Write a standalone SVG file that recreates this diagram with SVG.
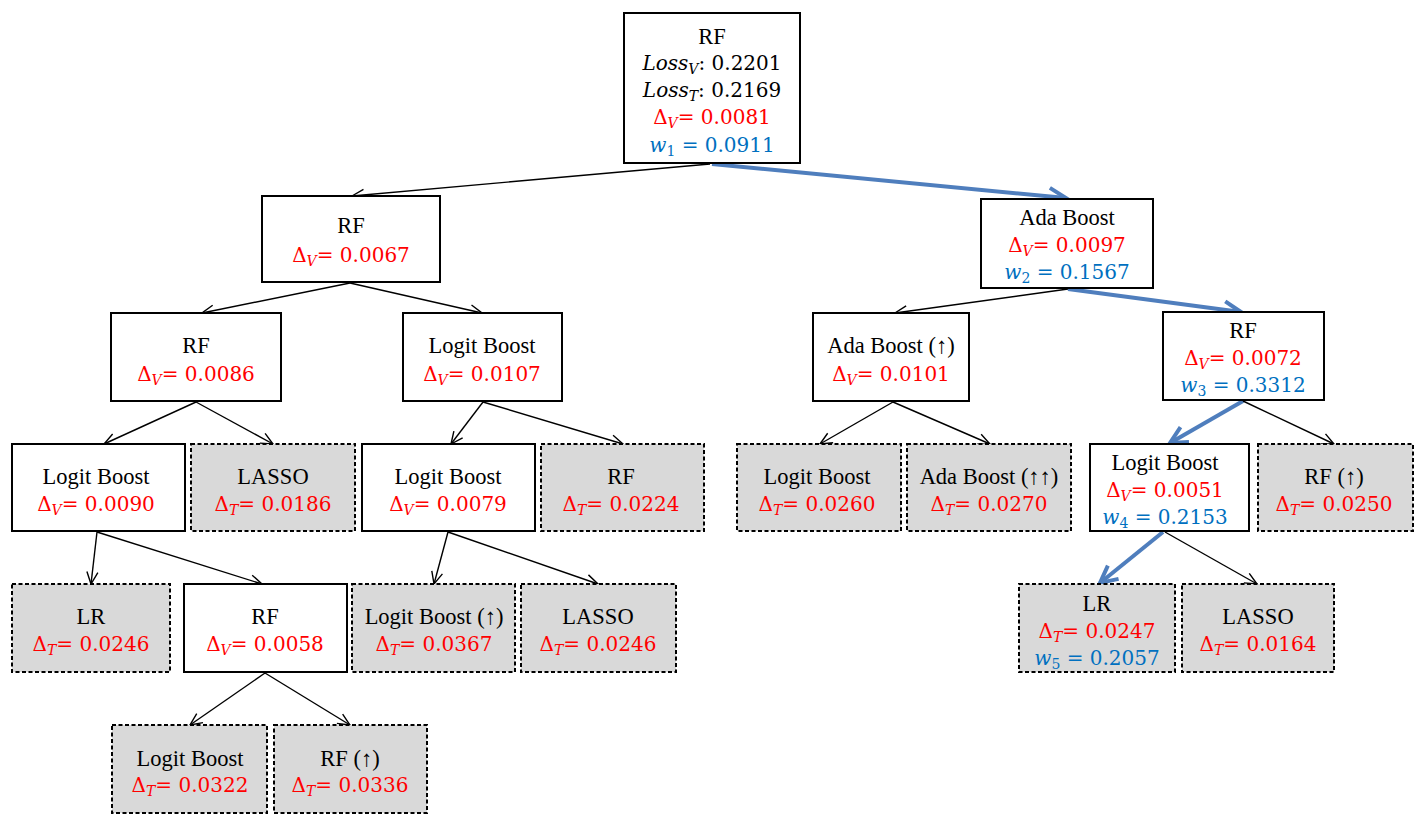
<svg xmlns="http://www.w3.org/2000/svg" width="1425" height="822" viewBox="0 0 1425 822">
<defs>
<style>
.n{fill:#fff;stroke:#000;stroke-width:2}
.g{fill:#D9D9D9;stroke:#000;stroke-width:2;stroke-dasharray:4,2.5}
.t{font-family:"Liberation Serif",serif;font-size:22.5px;fill:#000;text-anchor:middle}
.m{font-family:"DejaVu Serif",serif;font-size:20px;text-anchor:middle}
.r{fill:#FF0000}
.b{fill:#0070C0}
.k{fill:#000}
.i{font-style:italic}
.s{font-size:14px;font-style:italic}
.d{font-size:14px}
.c{stroke:#000;stroke-width:1.4;fill:none;marker-end:url(#a)}
.h{stroke:#4F7EBD;stroke-width:4;fill:none;marker-end:url(#ab)}
</style>
<marker id="a" markerUnits="userSpaceOnUse" markerWidth="16" markerHeight="16" refX="13" refY="6" orient="auto" viewBox="0 0 16 12">
<path d="M1,0.5 L13,6 L1,11.5" fill="none" stroke="#000" stroke-width="1.4"/>
</marker>
<marker id="ab" markerUnits="userSpaceOnUse" markerWidth="24" markerHeight="24" refX="19" refY="10" orient="auto" viewBox="0 0 24 20">
<path d="M2,1.5 L19,10 L2,18.5" fill="none" stroke="#4F7EBD" stroke-width="4"/>
</marker>
</defs>
<rect width="1425" height="822" fill="#fff"/>
<g id="connectors">
<line class="c" x1="710" y1="164" x2="352" y2="196"/>
<line class="h" x1="712" y1="164" x2="1066" y2="198"/>
<line class="c" x1="350" y1="283" x2="202" y2="313"/>
<line class="c" x1="350" y1="283" x2="482" y2="313"/>
<line class="c" x1="1068" y1="289" x2="895" y2="313"/>
<line class="h" x1="1068" y1="289" x2="1241" y2="312"/>
<line class="c" x1="196" y1="402" x2="104" y2="444"/>
<line class="c" x1="196" y1="402" x2="273" y2="444"/>
<line class="c" x1="483" y1="402" x2="451" y2="444"/>
<line class="c" x1="483" y1="402" x2="623" y2="444"/>
<line class="c" x1="893" y1="402" x2="820" y2="444"/>
<line class="c" x1="893" y1="402" x2="990" y2="444"/>
<line class="h" x1="1243" y1="401" x2="1170" y2="443"/>
<line class="c" x1="1243" y1="401" x2="1334" y2="444"/>
<line class="c" x1="97" y1="532" x2="91" y2="584"/>
<line class="c" x1="97" y1="532" x2="262" y2="584"/>
<line class="c" x1="448" y1="532" x2="434" y2="584"/>
<line class="c" x1="448" y1="532" x2="598" y2="584"/>
<line class="h" x1="1163" y1="532" x2="1100" y2="583"/>
<line class="c" x1="1165" y1="532" x2="1257" y2="584"/>
<line class="c" x1="265" y1="673" x2="190" y2="725"/>
<line class="c" x1="265" y1="673" x2="350" y2="725"/>
</g>
<g id="root">
<rect class="n" x="624" y="13" width="176" height="150"/>
<text class="t" x="712" y="44">RF</text>
<text class="m k" x="712" y="70"><tspan class="i">Loss</tspan><tspan class="s" dy="4">V</tspan><tspan dy="-4">: 0.2201</tspan></text>
<text class="m k" x="712" y="97"><tspan class="i">Loss</tspan><tspan class="s" dy="4">T</tspan><tspan dy="-4">: 0.2169</tspan></text>
<text class="m r" x="712" y="124">Δ<tspan class="s" dy="4">V</tspan><tspan dy="-4">= 0.0081</tspan></text>
<text class="m b" x="712" y="152"><tspan class="i">w</tspan><tspan class="d" dy="4">1</tspan><tspan dy="-4"> = 0.0911</tspan></text>
</g>
<g id="n_rf1">
<rect class="n" x="262" y="196" width="178" height="86"/>
<text class="t" x="351" y="233">RF</text>
<text class="m r" x="351" y="262">Δ<tspan class="s" dy="4">V</tspan><tspan dy="-4">= 0.0067</tspan></text>
</g>
<g id="n_ada1">
<rect class="n" x="981" y="199" width="172" height="89"/>
<text class="t" x="1067" y="225">Ada Boost</text>
<text class="m r" x="1067" y="252">Δ<tspan class="s" dy="4">V</tspan><tspan dy="-4">= 0.0097</tspan></text>
<text class="m b" x="1067" y="279"><tspan class="i">w</tspan><tspan class="d" dy="4">2</tspan><tspan dy="-4"> = 0.1567</tspan></text>
</g>
<g id="n_rf2">
<rect class="n" x="111" y="313" width="170" height="88"/>
<text class="t" x="196" y="353">RF</text>
<text class="m r" x="196" y="381">Δ<tspan class="s" dy="4">V</tspan><tspan dy="-4">= 0.0086</tspan></text>
</g>
<g id="n_lb2">
<rect class="n" x="403" y="313" width="159" height="88"/>
<text class="t" x="482" y="353">Logit Boost</text>
<text class="m r" x="482" y="381">Δ<tspan class="s" dy="4">V</tspan><tspan dy="-4">= 0.0107</tspan></text>
</g>
<g id="n_ada2">
<rect class="n" x="813" y="313" width="156" height="88"/>
<text class="t" x="891" y="353">Ada Boost (↑)</text>
<text class="m r" x="891" y="381">Δ<tspan class="s" dy="4">V</tspan><tspan dy="-4">= 0.0101</tspan></text>
</g>
<g id="n_rf3">
<rect class="n" x="1163" y="312" width="161" height="88"/>
<text class="t" x="1243" y="338">RF</text>
<text class="m r" x="1243" y="365">Δ<tspan class="s" dy="4">V</tspan><tspan dy="-4">= 0.0072</tspan></text>
<text class="m b" x="1243" y="392"><tspan class="i">w</tspan><tspan class="d" dy="4">3</tspan><tspan dy="-4"> = 0.3312</tspan></text>
</g>
<g id="n_lb3a">
<rect class="n" x="12" y="444" width="173" height="87"/>
<text class="t" x="96" y="484">Logit Boost</text>
<text class="m r" x="96" y="511">Δ<tspan class="s" dy="4">V</tspan><tspan dy="-4">= 0.0090</tspan></text>
</g>
<g id="n_lasso3">
<rect class="g" x="191" y="444" width="164" height="87"/>
<text class="t" x="273" y="484">LASSO</text>
<text class="m r" x="273" y="511">Δ<tspan class="s" dy="4">T</tspan><tspan dy="-4">= 0.0186</tspan></text>
</g>
<g id="n_lb3b">
<rect class="n" x="362" y="444" width="173" height="87"/>
<text class="t" x="448" y="484">Logit Boost</text>
<text class="m r" x="448" y="511">Δ<tspan class="s" dy="4">V</tspan><tspan dy="-4">= 0.0079</tspan></text>
</g>
<g id="n_rf3g">
<rect class="g" x="541" y="444" width="163" height="87"/>
<text class="t" x="621" y="484">RF</text>
<text class="m r" x="621" y="511">Δ<tspan class="s" dy="4">T</tspan><tspan dy="-4">= 0.0224</tspan></text>
</g>
<g id="n_lb3c">
<rect class="g" x="737" y="444" width="164" height="87"/>
<text class="t" x="817" y="484">Logit Boost</text>
<text class="m r" x="817" y="511">Δ<tspan class="s" dy="4">T</tspan><tspan dy="-4">= 0.0260</tspan></text>
</g>
<g id="n_ada3">
<rect class="g" x="907" y="444" width="164" height="87"/>
<text class="t" x="989" y="484">Ada Boost (↑↑)</text>
<text class="m r" x="989" y="511">Δ<tspan class="s" dy="4">T</tspan><tspan dy="-4">= 0.0270</tspan></text>
</g>
<g id="n_lb3d">
<rect class="n" x="1090" y="444" width="159" height="87"/>
<text class="t" x="1165" y="470">Logit Boost</text>
<text class="m r" x="1165" y="497">Δ<tspan class="s" dy="4">V</tspan><tspan dy="-4">= 0.0051</tspan></text>
<text class="m b" x="1165" y="524"><tspan class="i">w</tspan><tspan class="d" dy="4">4</tspan><tspan dy="-4"> = 0.2153</tspan></text>
</g>
<g id="n_rf3h">
<rect class="g" x="1258" y="444" width="155" height="87"/>
<text class="t" x="1334" y="484">RF (↑)</text>
<text class="m r" x="1334" y="511">Δ<tspan class="s" dy="4">T</tspan><tspan dy="-4">= 0.0250</tspan></text>
</g>
<g id="n_lr4a">
<rect class="g" x="12" y="584" width="158" height="88"/>
<text class="t" x="91" y="624">LR</text>
<text class="m r" x="91" y="651">Δ<tspan class="s" dy="4">T</tspan><tspan dy="-4">= 0.0246</tspan></text>
</g>
<g id="n_rf4">
<rect class="n" x="184" y="584" width="163" height="88"/>
<text class="t" x="265" y="624">RF</text>
<text class="m r" x="265" y="651">Δ<tspan class="s" dy="4">V</tspan><tspan dy="-4">= 0.0058</tspan></text>
</g>
<g id="n_lb4">
<rect class="g" x="352" y="584" width="163" height="88"/>
<text class="t" x="434" y="624">Logit Boost (↑)</text>
<text class="m r" x="434" y="651">Δ<tspan class="s" dy="4">T</tspan><tspan dy="-4">= 0.0367</tspan></text>
</g>
<g id="n_lasso4">
<rect class="g" x="521" y="584" width="155" height="88"/>
<text class="t" x="598" y="624">LASSO</text>
<text class="m r" x="598" y="651">Δ<tspan class="s" dy="4">T</tspan><tspan dy="-4">= 0.0246</tspan></text>
</g>
<g id="n_lr4b">
<rect class="g" x="1019" y="584" width="156" height="88"/>
<text class="t" x="1097" y="611">LR</text>
<text class="m r" x="1097" y="638">Δ<tspan class="s" dy="4">T</tspan><tspan dy="-4">= 0.0247</tspan></text>
<text class="m b" x="1097" y="665"><tspan class="i">w</tspan><tspan class="d" dy="4">5</tspan><tspan dy="-4"> = 0.2057</tspan></text>
</g>
<g id="n_lasso4b">
<rect class="g" x="1182" y="584" width="152" height="88"/>
<text class="t" x="1258" y="624">LASSO</text>
<text class="m r" x="1258" y="651">Δ<tspan class="s" dy="4">T</tspan><tspan dy="-4">= 0.0164</tspan></text>
</g>
<g id="n_lb5">
<rect class="g" x="112" y="725" width="155" height="88"/>
<text class="t" x="190" y="766">Logit Boost</text>
<text class="m r" x="190" y="792">Δ<tspan class="s" dy="4">T</tspan><tspan dy="-4">= 0.0322</tspan></text>
</g>
<g id="n_rf5">
<rect class="g" x="274" y="725" width="153" height="88"/>
<text class="t" x="350" y="766">RF (↑)</text>
<text class="m r" x="350" y="792">Δ<tspan class="s" dy="4">T</tspan><tspan dy="-4">= 0.0336</tspan></text>
</g>
</svg>
